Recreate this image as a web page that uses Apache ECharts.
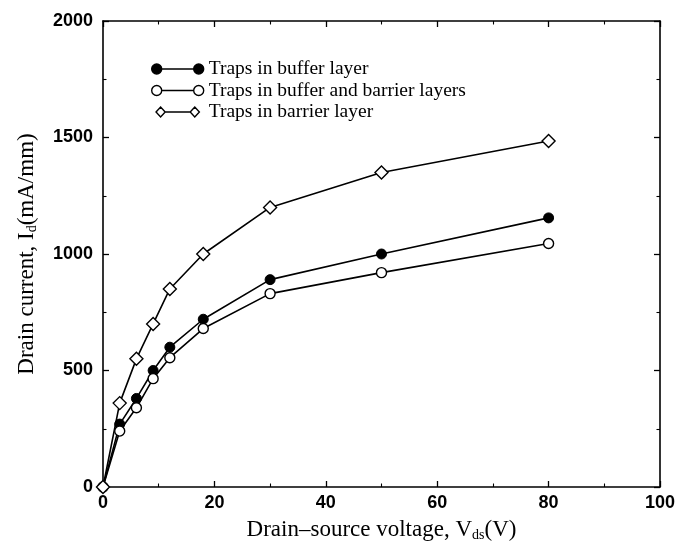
<!DOCTYPE html>
<html>
<head>
<meta charset="utf-8">
<script src="https://cdn.jsdelivr.net/npm/echarts@6/dist/echarts.min.js"></script>
<style>html,body{margin:0;padding:0;background:#fff;}#c{width:678px;height:547px;}</style>
</head>
<body>
<div id="c"></div>
<script>
var vds = [0, 3, 6, 9, 12, 18, 30, 50, 80];
var bufferLayer = [0, 270, 380, 500, 600, 720, 890, 1000, 1155];
var bufferBarrier = [0, 240, 340, 465, 555, 680, 830, 920, 1045];
var barrierLayer = [0, 360, 550, 700, 850, 1000, 1200, 1350, 1485];
var seriesNames = ['Traps in buffer layer', 'Traps in buffer and barrier layers', 'Traps in barrier layer'];
var xTicks = [0, 20, 40, 60, 80, 100];
var yTicks = [0, 500, 1000, 1500, 2000];

function pairs(xs, ys) { return xs.map(function (x, i) { return [x, ys[i]]; }); }

var circPath = 'path://M0,5a5,5 0 1,0 10,0a5,5 0 1,0 -10,0Z M42,5a5,5 0 1,0 10,0a5,5 0 1,0 -10,0Z M10,5L42,5';
var diaPath = 'path://M0,6L5.5,0L11,6L5.5,12Z M41,6L46.5,0L52,6L46.5,12Z M11,6L41,6';

var serif = '"Liberation Serif", "Times New Roman", serif';
var sans = '"Liberation Sans", Arial, sans-serif';

var chart = echarts.init(document.getElementById('c'));
var tickCommon = { show: true, inside: true, length: 6, lineStyle: { color: '#000', width: 1.3 } };
var minorCommon = { show: true, splitNumber: 2, length: 3.5, lineStyle: { color: '#000', width: 1.1 } };
var lineCommon = { show: true, onZero: false, lineStyle: { color: '#000', width: 1.6 } };
function plain(v) { return String(v); }

chart.setOption({
  animation: false,
  backgroundColor: '#fff',
  grid: { left: 103, right: 18, top: 21, bottom: 55, containLabel: false },
  legend: {
    left: 146, top: 54, orient: 'vertical', itemWidth: 52, itemHeight: 10, itemGap: 1.5,
    textStyle: { fontFamily: serif, fontSize: 19.5, color: '#000', padding: [0, 0, 0, 0] },
    data: [
      { name: seriesNames[0], icon: circPath, itemStyle: { color: '#000', borderColor: '#000', borderWidth: 1.4 } },
      { name: seriesNames[1], icon: circPath, itemStyle: { color: '#fff', borderColor: '#000', borderWidth: 1.4 } },
      { name: seriesNames[2], icon: diaPath, itemStyle: { color: '#fff', borderColor: '#000', borderWidth: 1.4 } }
    ]
  },
  xAxis: [{
    type: 'value', min: 0, max: 100, interval: 20, position: 'bottom',
    name: 'Drain\u2013source voltage, V{sub|ds}(V)', nameLocation: 'middle', nameGap: 30,
    nameTextStyle: { fontFamily: serif, fontSize: 23, color: '#000',
      rich: { sub: { fontFamily: serif, fontSize: 14, color: '#000', verticalAlign: 'bottom', padding: [11, 0, 0, 0] } } },
    axisLine: lineCommon, axisTick: tickCommon, minorTick: minorCommon,
    axisLabel: { color: '#000', fontFamily: sans, fontSize: 18, fontWeight: 'bold', margin: 7, formatter: plain },
    splitLine: { show: false }
  }, {
    type: 'value', min: 0, max: 100, interval: 20, position: 'top',
    axisLine: lineCommon, axisTick: tickCommon, minorTick: minorCommon,
    axisLabel: { show: false }, splitLine: { show: false }
  }],
  yAxis: [{
    type: 'value', min: 0, max: 2000, interval: 500, position: 'left',
    name: 'Drain current, I{sub|d}(mA/mm)', nameLocation: 'middle', nameGap: 64,
    nameTextStyle: { fontFamily: serif, fontSize: 23, color: '#000',
      rich: { sub: { fontFamily: serif, fontSize: 14, color: '#000', verticalAlign: 'bottom', padding: [11, 0, 0, 0] } } },
    axisLine: lineCommon, axisTick: tickCommon, minorTick: minorCommon,
    axisLabel: { color: '#000', fontFamily: sans, fontSize: 18, fontWeight: 'bold', margin: 10, formatter: plain },
    splitLine: { show: false }
  }, {
    type: 'value', min: 0, max: 2000, interval: 500, position: 'right',
    axisLine: lineCommon, axisTick: tickCommon, minorTick: minorCommon,
    axisLabel: { show: false }, splitLine: { show: false }
  }],
  series: [{
    name: seriesNames[0], type: 'line', data: pairs(vds, bufferLayer),
    symbol: 'circle', symbolSize: 10,
    lineStyle: { color: '#000', width: 1.6 },
    itemStyle: { color: '#000', borderColor: '#000', borderWidth: 1 }
  }, {
    name: seriesNames[1], type: 'line', data: pairs(vds, bufferBarrier),
    symbol: 'circle', symbolSize: 10,
    lineStyle: { color: '#000', width: 1.6 },
    itemStyle: { color: '#fff', borderColor: '#000', borderWidth: 1.4 }
  }, {
    name: seriesNames[2], type: 'line', data: pairs(vds, barrierLayer),
    symbol: 'diamond', symbolSize: 13,
    lineStyle: { color: '#000', width: 1.6 },
    itemStyle: { color: '#fff', borderColor: '#000', borderWidth: 1.4 }
  }]
});
</script>
</body>
</html>
